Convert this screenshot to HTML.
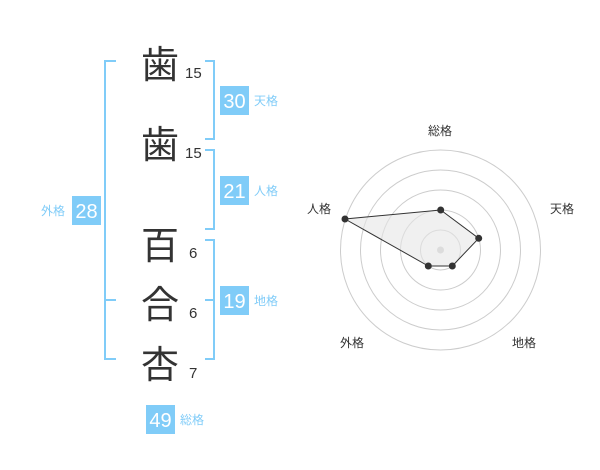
<!DOCTYPE html>
<html><head><meta charset="utf-8"><style>
html,body{margin:0;padding:0;background:#fff;}
svg{display:block;}
.k{font-family:"Liberation Sans","Noto Sans CJK JP",sans-serif;font-size:38px;fill:#333;text-anchor:middle;}
.n{font-family:"Liberation Sans",sans-serif;font-size:15px;fill:#333;}
.b{font-family:"Liberation Sans",sans-serif;font-size:20px;fill:#fff;text-anchor:middle;}
.l{font-family:"Liberation Sans","Noto Sans CJK JP",sans-serif;font-size:12px;fill:#80ccf8;}
.r{font-family:"Liberation Sans","Noto Sans CJK JP",sans-serif;font-size:12px;fill:#333;text-anchor:middle;}
</style></head><body>
<svg width="600" height="470" viewBox="0 0 600 470" xmlns="http://www.w3.org/2000/svg">
<g stroke="#80ccf8" stroke-width="2" fill="none">
<polyline points="116,61 105,61 105,359 116,359"/>
<line x1="105" y1="300" x2="116" y2="300"/>
<polyline points="205,61 214,61 214,139 205,139"/>
<polyline points="205,150 214,150 214,229 205,229"/>
<polyline points="205,240 214,240 214,359 205,359"/>
<line x1="205" y1="300" x2="214" y2="300"/>
</g>
<text class="k" x="160" y="78">歯</text>
<text class="k" x="160" y="158">歯</text>
<text class="k" x="160" y="259">百</text>
<text class="k" x="160" y="318">合</text>
<text class="k" x="160" y="378">杏</text>
<text class="n" x="185" y="78">15</text>
<text class="n" x="185" y="158">15</text>
<text class="n" x="189" y="258">6</text>
<text class="n" x="189" y="318">6</text>
<text class="n" x="189" y="378">7</text>
<g fill="#80ccf8">
<rect x="220" y="86" width="29" height="29"/>
<rect x="220" y="176" width="29" height="29"/>
<rect x="220" y="286" width="29" height="29"/>
<rect x="72" y="196" width="29" height="29"/>
<rect x="146" y="405" width="29" height="29"/>
</g>
<text class="b" x="234.5" y="108">30</text>
<text class="b" x="234.5" y="198">21</text>
<text class="b" x="234.5" y="308">19</text>
<text class="b" x="86.5" y="218">28</text>
<text class="b" x="160.5" y="427">49</text>
<text class="l" x="254" y="105">天格</text>
<text class="l" x="254" y="195">人格</text>
<text class="l" x="254" y="305">地格</text>
<text class="l" x="41" y="215">外格</text>
<text class="l" x="180" y="424">総格</text>
<g stroke="#cccccc" stroke-width="1" fill="none">
<circle cx="440.5" cy="250" r="20"/>
<circle cx="440.5" cy="250" r="40"/>
<circle cx="440.5" cy="250" r="60"/>
<circle cx="440.5" cy="250" r="80"/>
<circle cx="440.5" cy="250" r="100"/>
</g>
<circle cx="440.5" cy="250" r="3.5" fill="#cccccc"/>
<polygon points="440.7,210 478.7,238.3 452.3,266 428.3,266 345,219" fill="#e6e6e6" fill-opacity="0.6" stroke="#333" stroke-width="1"/>
<g fill="#333">
<circle cx="440.7" cy="210" r="3.5"/>
<circle cx="478.7" cy="238.3" r="3.5"/>
<circle cx="452.3" cy="266" r="3.5"/>
<circle cx="428.3" cy="266" r="3.5"/>
<circle cx="345" cy="219" r="3.5"/>
</g>
<text class="r" x="440" y="135">総格</text>
<text class="r" x="562" y="213">天格</text>
<text class="r" x="319" y="213">人格</text>
<text class="r" x="352" y="347">外格</text>
<text class="r" x="524" y="347">地格</text>
</svg>
</body></html>
